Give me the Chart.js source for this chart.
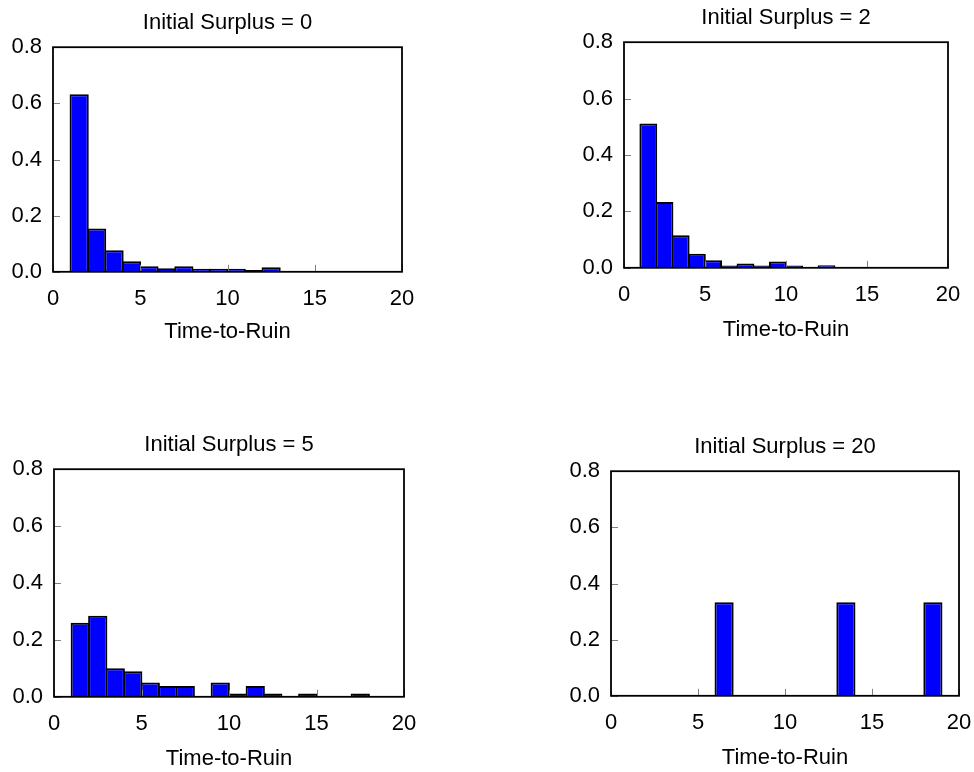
<!DOCTYPE html>
<html>
<head>
<meta charset="utf-8">
<script src="https://cdn.jsdelivr.net/npm/chart.js@4/dist/chart.umd.min.js"></script>
<style>
  html, body { margin: 0; padding: 0; background: #fff; overflow: hidden; }
  body { width: 974px; height: 772px; position: relative; }
  canvas { position: absolute; }
</style>
</head>
<body>
<canvas id="p0"></canvas>
<canvas id="p2"></canvas>
<canvas id="p5"></canvas>
<canvas id="p20"></canvas>
<script>
// Histogram bins of time-to-ruin (bin centres, bin width 1) and relative frequencies
const centresSurplus0 = [1.5, 2.5, 3.5, 4.5, 5.5, 6.5, 7.5, 8.5, 9.5, 10.5, 11.5, 12.5, 13.5];
const freqSurplus0 = [0.632, 0.154, 0.077, 0.038, 0.020, 0.013, 0.020, 0.011, 0.011, 0.011, 0.006, 0.016, 0.002];

const centresSurplus2 = [1.5, 2.5, 3.5, 4.5, 5.5, 6.5, 7.5, 8.5, 9.5, 10.5, 11.5, 12.5, 13.5];
const freqSurplus2 = [0.512, 0.233, 0.115, 0.050, 0.027, 0.008, 0.015, 0.008, 0.022, 0.008, 0.002, 0.009, 0.002];

const centresSurplus5 = [1.5, 2.5, 3.5, 4.5, 5.5, 6.5, 7.5, 8.5, 9.5, 10.5, 11.5, 12.5, 13.5, 14.5, 15.5, 16.5, 17.5, 18.5];
const freqSurplus5 = [0.26, 0.285, 0.10, 0.09, 0.05, 0.038, 0.038, 0, 0.05, 0.012, 0.038, 0.012, 0, 0.012, 0, 0, 0.012, 0];

const centresSurplus20 = [6.5, 7.5, 8.5, 9.5, 10.5, 11.5, 12.5, 13.5, 14.5, 15.5, 16.5, 17.5, 18.5];
const freqSurplus20 = [0.333, 0, 0, 0, 0, 0, 0, 0.333, 0, 0, 0, 0, 0.333];

const panelTitles = ['Initial Surplus = 0', 'Initial Surplus = 2', 'Initial Surplus = 5', 'Initial Surplus = 20'];
const xTitle = 'Time-to-Ruin';
const xTicks = [0, 5, 10, 15, 20];
const yTicks = [0, 0.2, 0.4, 0.6, 0.8];

const FONT = { family: '"Liberation Sans", Arial, Helvetica, sans-serif', size: 22, weight: 'normal', lineHeight: 1.2 };
const LINE_H = FONT.size * FONT.lineHeight;
const TITLE_GAP = 24;      // distance from plot top to panel title centre
const Y_AXIS_W = 50;
const RIGHT_PAD = 16;

// Inward tick marks and the black frame around each plot area
const framePlugin = {
  id: 'frame',
  afterDatasetsDraw(chart) {
    const { ctx, chartArea: a, scales: { x, y } } = chart;
    ctx.save();
    ctx.strokeStyle = '#808080';
    ctx.lineWidth = 1;
    ctx.beginPath();
    xTicks.forEach(v => {
      const px = Math.round(x.getPixelForValue(v)) + 0.5;
      ctx.moveTo(px, a.bottom);
      ctx.lineTo(px, a.bottom - 7);
    });
    yTicks.forEach(v => {
      const py = Math.round(y.getPixelForValue(v)) + 0.5;
      ctx.moveTo(a.left, py);
      ctx.lineTo(a.left + 7, py);
    });
    ctx.stroke();
    ctx.strokeStyle = '#000';
    ctx.lineWidth = 1.8;
    ctx.strokeRect(a.left, a.top, a.right - a.left, a.bottom - a.top);
    ctx.restore();
  }
};

function makePanel(id, plot, title, centres, freqs) {
  const { L, T, R, B, xGap } = plot;
  const titleBox = LINE_H + (TITLE_GAP - LINE_H / 2);
  const xAxisH = xGap + LINE_H / 2;
  const canvas = document.getElementById(id);
  const left = L - Y_AXIS_W;
  const top = T - titleBox;
  const w = (R - L) + Y_AXIS_W + RIGHT_PAD;
  const h = (B - T) + titleBox + xAxisH;
  canvas.style.left = Math.round(left) + 'px';
  canvas.style.top = Math.round(top) + 'px';
  canvas.width = Math.round(w);
  canvas.height = Math.round(h);

  new Chart(canvas, {
    type: 'bar',
    data: {
      datasets: [{
        data: centres.map((c, i) => ({ x: c, y: freqs[i] })),
        backgroundColor: '#0000ff',
        borderColor: '#000000',
        borderWidth: 2,
        borderSkipped: 'start',
        categoryPercentage: 1,
        barPercentage: 1.1
      }]
    },
    options: {
      responsive: false,
      animation: false,
      devicePixelRatio: 1,
      layout: { padding: { left: 0, right: RIGHT_PAD, top: 0, bottom: 0 } },
      plugins: {
        legend: { display: false },
        tooltip: { enabled: false },
        title: {
          display: true,
          text: title,
          fullSize: false,
          color: '#000',
          font: FONT,
          padding: { top: 0, bottom: TITLE_GAP - LINE_H / 2 }
        }
      },
      scales: {
        x: {
          type: 'linear',
          min: 0, max: 20,
          offset: false,
          afterBuildTicks: s => { s.ticks = xTicks.map(v => ({ value: v })); },
          ticks: { color: '#000', font: FONT, padding: 14, maxRotation: 0, autoSkip: false },
          grid: { display: false, drawTicks: false, offset: false },
          border: { display: false },
          title: { display: true, text: xTitle, color: '#000', font: FONT, padding: { top: 0, bottom: 0 } },
          afterFit: s => { s.height = xAxisH; s.paddingLeft = 0; s.paddingRight = 0; }
        },
        y: {
          min: 0, max: 0.8,
          afterBuildTicks: s => { s.ticks = yTicks.map(v => ({ value: v })); },
          ticks: { color: '#000', font: FONT, padding: 11, callback: v => Number(v).toFixed(1) },
          grid: { display: false, drawTicks: false },
          border: { display: false },
          afterFit: s => { s.width = Y_AXIS_W; s.paddingTop = 0; s.paddingBottom = 0; }
        }
      }
    },
    plugins: [framePlugin]
  });
}

makePanel('p0',  { L: 53,  T: 47,  R: 402, B: 272, xGap: 60 }, panelTitles[0], centresSurplus0, freqSurplus0);
makePanel('p2',  { L: 624, T: 42,  R: 948, B: 268, xGap: 62 }, panelTitles[1], centresSurplus2, freqSurplus2);
makePanel('p5',  { L: 54,  T: 469, R: 404, B: 697, xGap: 62 }, panelTitles[2], centresSurplus5, freqSurplus5);
makePanel('p20', { L: 611, T: 471, R: 959, B: 696, xGap: 62 }, panelTitles[3], centresSurplus20, freqSurplus20);
</script>
</body>
</html>
